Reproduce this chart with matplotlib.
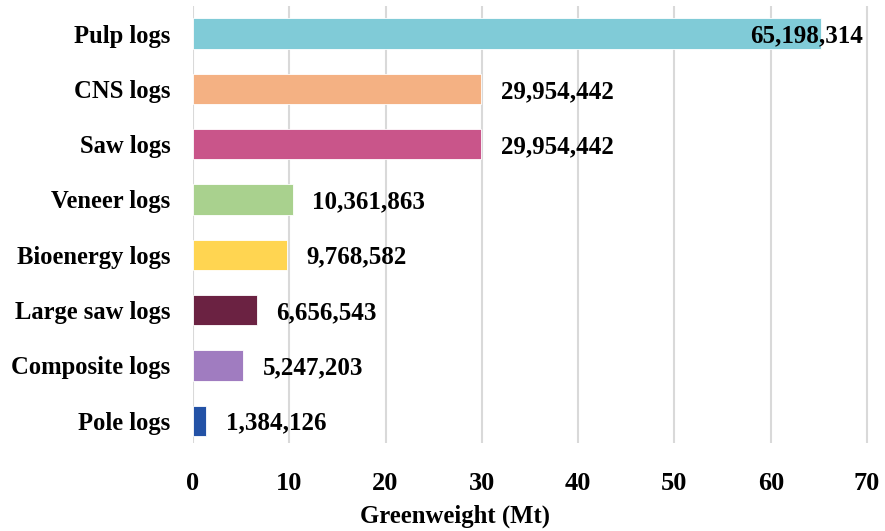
import matplotlib
matplotlib.use("Agg")
import matplotlib.pyplot as plt

categories = ["Pole logs", "Composite logs", "Large saw logs", "Bioenergy logs",
              "Veneer logs", "Saw logs", "CNS logs", "Pulp logs"]
values_t = [1384126, 5247203, 6656543, 9768582, 10361863, 29954442, 29954442, 65198314]
colors = ["#2352A6", "#A07CC0", "#6B2242", "#FFD551", "#A9D18E", "#C9558A", "#F4B183", "#80CBD7"]
xticks = [0, 10, 20, 30, 40, 50, 60, 70]

values_mt = [v / 1e6 for v in values_t]

plt.rcParams['font.family'] = ['Liberation Serif', 'DejaVu Serif']
plt.rcParams['font.weight'] = 'bold'

fig = plt.figure(figsize=(8.85, 5.31), dpi=100)
ax = fig.add_axes([0.218, 0.166, 0.765, 0.823])

ypos = list(range(len(categories)))
ax.barh(ypos, values_mt, height=0.55, color=colors, edgecolor="white", linewidth=0.6, zorder=3)

for y, v, t in zip(ypos, values_mt, values_t):
    label = f"{t:,}"
    if v > 60:
        ax.text(69.6, y, label, ha="right", va="center_baseline", fontsize=18, fontweight="bold", zorder=4)
    else:
        ax.text(v + 2.0, y, label, ha="left", va="center_baseline", fontsize=18, fontweight="bold", zorder=4)

ax.set_xlim(0, 70.3)
ax.set_ylim(-0.4, 7.5)
ax.set_xticks(xticks)
ax.set_xticklabels([str(x) for x in xticks], fontsize=19, fontweight="bold")
ax.tick_params(axis="both", length=0)
ax.tick_params(axis="x", pad=21)
ax.set_yticks(ypos)
ax.set_yticklabels(categories, fontsize=17.7, fontweight="bold")
ax.tick_params(axis="y", pad=16)
ax.grid(axis="x", color="#d9d9d9", linewidth=1.5, zorder=0)
ax.set_axisbelow(True)
for s in ax.spines.values():
    s.set_visible(False)
ax.set_xlabel("Greenweight (Mt)", fontsize=17.8, fontweight="bold")
ax.xaxis.set_label_coords(0.387, -0.142)

fig.savefig("out.png", dpi=100)
